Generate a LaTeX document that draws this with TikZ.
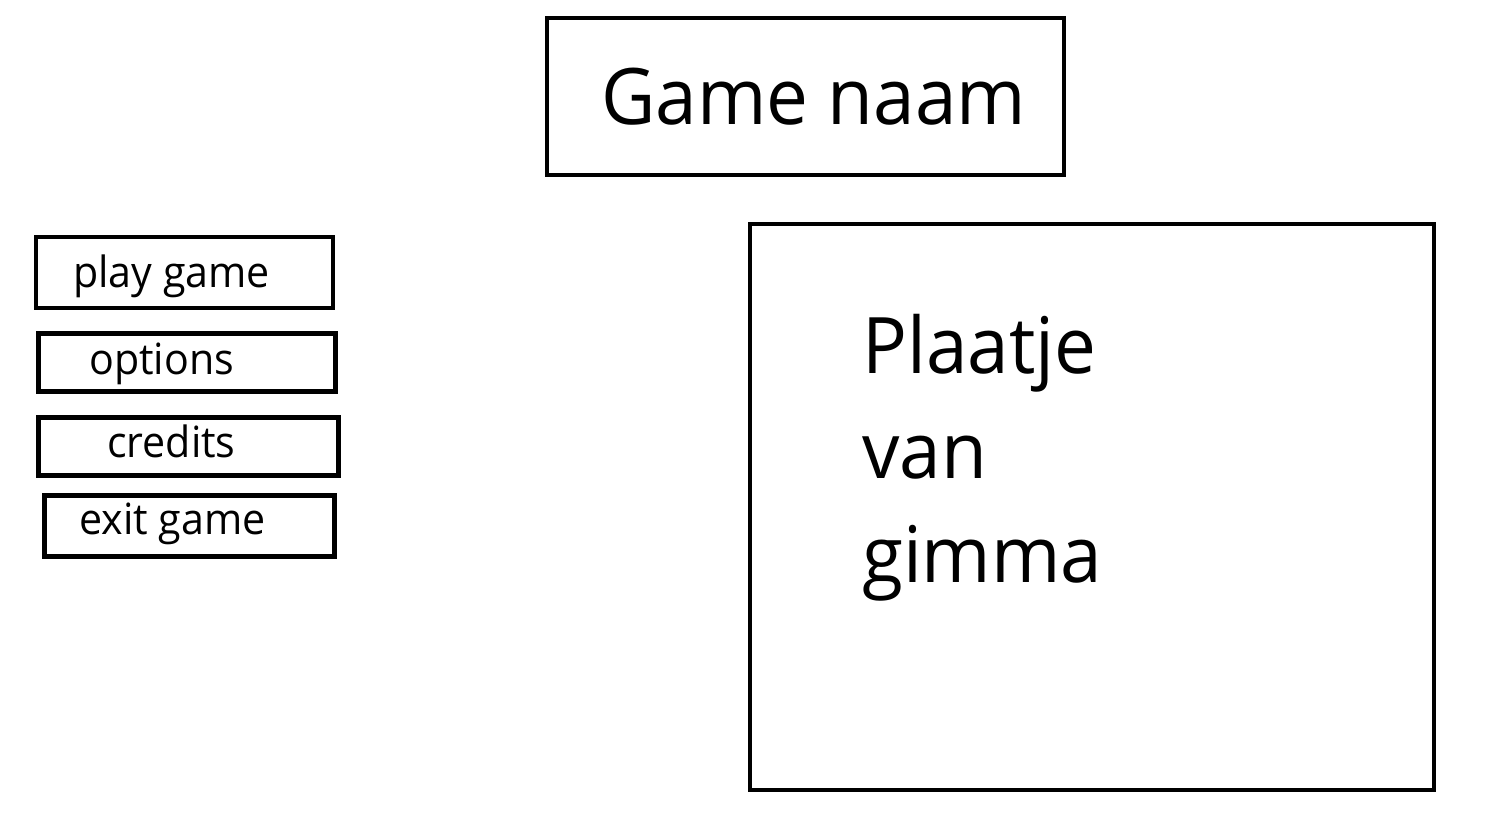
\documentclass[tikz,border=0pt]{standalone}
\usepackage{fontspec}
\setmainfont{Open Sans}
\begin{document}
\begin{tikzpicture}[x=1pt,y=-1pt,
  box/.style={draw=black,line width=4.5pt,inner sep=0pt,outer sep=0pt},
  btntext/.style={anchor=base west,inner sep=0pt,xscale=0.957,font=\fontsize{43}{48}\selectfont},
  bigtext/.style={anchor=base west,inner sep=0pt,xscale=0.957,font=\fontsize{78}{90}\selectfont}]
\useasboundingbox (0,0) rectangle (1494,828);
% title
\draw[box] (547,18) rectangle (1064,175);
\node[bigtext] (title) at (601,124) {Game naam};
% picture box
\draw[box] (750,224) rectangle (1434,790);
\node[bigtext] (p1) at (862,373) {Plaatje};
\node[bigtext] (p2) at (862,478) {van};
\node[bigtext] (p3) at (862,582) {gimma};
% buttons
\draw[box] (36,237) rectangle (333,308);
\node[btntext] (play) at (73,287) {play game};
\draw[box] (38.5,333.5) rectangle (335.5,391.5);
\node[btntext] (opt) at (89,374) {options};
\draw[box] (38.5,417.5) rectangle (338.5,475.5);
\node[btntext] (cred) at (107,457) {credits};
\draw[box] (44.5,495.5) rectangle (334.5,556.5);
\node[btntext] (exit) at (79,534) {exit game};
\end{tikzpicture}
\end{document}
